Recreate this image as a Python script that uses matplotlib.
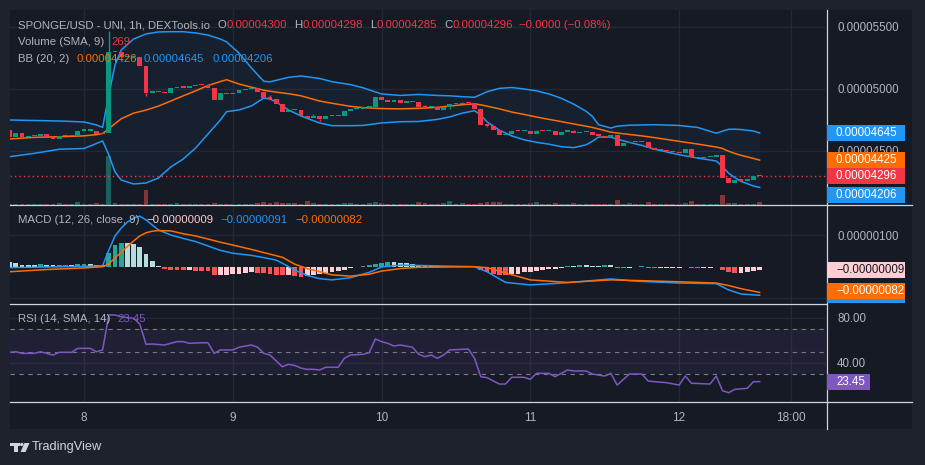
import numpy as np
import matplotlib.pyplot as plt
from matplotlib.patches import Rectangle, Polygon, Circle
from matplotlib.lines import Line2D
from matplotlib.transforms import IdentityTransform
from matplotlib.ticker import FuncFormatter

plt.rcParams['font.family'] = ['Liberation Sans', 'DejaVu Sans']

# prices are given in units of 1e-8 USD
UNIT = 1e-8

# hourly candles, hours counted from the 8th 00:00
hours = np.arange(-12, 110)
first_open = 4669
closes = [
    4615, 4643, 4610, 4620, 4621, 4635, 4615, 4594, 4623, 4619, 4624, 4664,
    4664, 4664, 4637, 4643, 5296, 5296, 5258, 5258, 5258, 5185, 4968, 4984,
    4976, 4966, 5008, 5016, 5012, 5024, 5032, 5030, 5006, 4911, 4968, 4958,
    4970, 4992, 5000, 5010, 4978, 4930, 4922, 4877, 4817, 4831, 4830, 4785,
    4769, 4785, 4758, 4785, 4780, 4780, 4823, 4839, 4839, 4852, 4852, 4935,
    4914, 4898, 4911, 4890, 4893, 4893, 4855, 4852, 4853, 4831, 4852, 4879,
    4879, 4887, 4885, 4841, 4712, 4704, 4672, 4631, 4637, 4661, 4659, 4659,
    4637, 4661, 4659, 4659, 4629, 4656, 4661, 4645, 4651, 4651, 4629, 4624,
    4613, 4629, 4543, 4562, 4573, 4570, 4570, 4527, 4510, 4510, 4500, 4490,
    4481, 4516, 4454, 4444, 4449, 4449, 4468, 4285, 4242, 4269, 4261, 4264,
    4300, 4296,
]
volumes = [
    110, 90, 100, 80, 90, 120, 90, 100, 210, 90, 80, 270,
    90, 100, 180, 120, 4400, 140, 110, 100, 90, 120, 1350, 100,
    90, 100, 120, 150, 100, 80, 130, 90, 120, 150, 120, 90,
    90, 80, 90, 100, 200, 250, 140, 230, 200, 150, 150, 100,
    350, 160, 110, 90, 80, 90, 150, 160, 90, 90, 180, 260,
    150, 100, 90, 90, 80, 90, 270, 180, 90, 100, 180, 350,
    100, 180, 90, 100, 180, 230, 230, 270, 90, 90, 80, 90,
    180, 270, 90, 90, 180, 90, 90, 180, 90, 80, 90, 90,
    90, 90, 450, 90, 180, 90, 80, 270, 100, 90, 90, 90,
    90, 180, 360, 100, 90, 90, 100, 900, 180, 180, 90, 90,
    100, 269,
]
# visible wicks
hi_hours = [4, 30, 37, 46, 55, 61, 73, 79]
hi_vals = [5468, 4952, 4798, 4863, 4873, 4895, 4669, 4669]
lo_hours = [10, 38, 59, 65]
lo_vals = [4945, 4742, 4836, 4696]

# Bollinger bands (20, 2)
bb_hours = [-12, -8, -4, 0, 2, 3, 4, 5, 6, 8,
            10, 12, 14, 16, 18, 20, 22, 23, 25, 27,
            29, 30, 31, 33, 35, 38, 40, 43, 45, 48,
            51, 54, 57, 59, 61, 63, 64, 65, 67, 69,
            71, 73, 75, 77, 79, 81, 82, 83, 85, 86,
            88, 90, 92, 96, 99, 102, 103, 104, 105, 106,
            108, 109]
bb_upper = [4750, 4746, 4742, 4734, 4710, 4690, 4952, 5194, 5315, 5403,
            5444, 5460, 5462, 5462, 5452, 5435, 5403, 5380, 5290, 5170,
            5062, 5058, 5070, 5094, 5105, 5085, 5059, 5035, 5010, 4960,
            4948, 4956, 4948, 4945, 4938, 4933, 4955, 4978, 5005, 5012,
            5000, 4985, 4960, 4925, 4878, 4820, 4780, 4712, 4685, 4700,
            4708, 4710, 4712, 4706, 4690, 4643, 4660, 4675, 4676, 4673,
            4661, 4645]
bb_mid = [4597, 4610, 4615, 4622, 4632, 4641, 4680, 4720, 4760, 4805,
          4830, 4862, 4903, 4945, 4985, 5028, 5060, 5075, 5040, 5015,
          4990, 4982, 4975, 4962, 4945, 4903, 4885, 4860, 4850, 4842,
          4840, 4844, 4852, 4862, 4873, 4880, 4872, 4862, 4840, 4814,
          4795, 4774, 4755, 4737, 4718, 4700, 4690, 4678, 4652, 4645,
          4633, 4622, 4608, 4578, 4556, 4532, 4520, 4498, 4480, 4465,
          4440, 4426]
bb_lower = [4454, 4481, 4514, 4520, 4560, 4581, 4468, 4331, 4266, 4234,
            4242, 4282, 4371, 4435, 4524, 4637, 4750, 4817, 4831, 4863,
            4927, 4919, 4895, 4831, 4782, 4726, 4704, 4704, 4706, 4726,
            4736, 4738, 4755, 4775, 4805, 4825, 4790, 4735, 4668, 4622,
            4590, 4570, 4555, 4535, 4527, 4550, 4578, 4612, 4612, 4595,
            4569, 4545, 4515, 4470, 4443, 4419, 4375, 4320, 4285, 4255,
            4218, 4206]

# MACD (12, 26, close, 9)
macd_hist = [
    14, 11, 7, 7, 5, 8, 5, 5, 6, 7, 5, 8,
    9, 8, 7, 6, 44, 70, 76, 76, 71, 62, 40, 19,
    2, -7, -10, -11, -12, -11, -13, -14, -15, -27, -26, -25,
    -24, -22, -20, -18, -20, -21, -23, -25, -27, -25, -30, -32,
    -30, -27, -23, -20, -17, -13, -9, -5, -2, 2, 4, 8,
    12, 16, 14, 13, 13, 10, 7, 5, 3, 2, 1, 1,
    1, 2, 2, 0, -12, -17, -22, -25, -28, -24, -24, -17,
    -17, -15, -12, -8, -6, -4, 3, 3, 4, 4, 3, 3,
    4, 4, -3, -5, -3, -2, 1, -4, -5, -5, -5, -4,
    -4, -1, -4, -5, -4, -3, -2, -12, -17, -20, -20, -17,
    -14, -9,
]
macd_hours = [-12, -6, 0, 3, 4, 5, 6, 7, 8, 9, 10, 11, 12, 14, 16,
              18, 20, 22, 24, 27, 29, 31, 32, 34, 36, 38, 40, 43, 46, 48,
              51, 54, 58, 63, 65, 68, 72, 78, 85, 89, 96, 102, 104, 106, 109]
macd_line = [-3, -1, 1, 3, 53, 98, 123, 142, 155, 161, 149, 133, 117, 101, 90,
             80, 66, 52, 43, 36, 29, 21, 11, -11, -28, -38, -42, -35, -18, -1,
             5, 4, 2, 0, -16, -50, -58, -51, -39, -46, -52, -54, -74, -87, -91]
signal_line = [-16, -9, -4, 0, 9, 28, 46, 64, 82, 98, 108, 113, 115, 114, 105,
               98, 88, 78, 69, 55, 45, 35, 30, 8, -6, -16, -26, -30, -24, -14,
               -6, -2, -1, 0, -3, -20, -42, -50, -42, -44, -48, -52, -60, -70, -82]

# RSI (14)
rsi_hours = [-12, -11, -10, -8, -7, -5, -4, -2, -1, 1,
             2, 3, 4, 5, 6, 8, 9, 10, 11, 13,
             15, 16, 17, 19, 20, 21, 22, 24, 25, 27,
             28, 29, 30, 32, 33, 34, 35, 36, 37, 38,
             39, 41, 42, 43, 45, 46, 47, 48, 49, 50,
             51, 53, 54, 55, 56, 57, 58, 59, 62, 63,
             64, 65, 67, 68, 69, 71, 72, 73, 75, 76,
             78, 79, 81, 82, 84, 85, 86, 88, 90, 91,
             92, 94, 96, 97, 98, 101, 102, 103, 104, 105,
             107, 108, 109]
rsi_vals = [49.5, 50, 48.6, 48.6, 50, 47, 49.5, 49.5, 53, 53,
            50, 51.6, 82.7, 82.7, 81, 79.7, 74.7, 56.6, 56.9, 56,
            59, 59, 57.5, 58, 58, 48.6, 51.6, 51.6, 54, 56,
            54, 48.6, 47.1, 36.7, 38.8, 37.8, 35.5, 34.4, 34.4, 33.8,
            36.2, 36.2, 44.2, 47.1, 47.7, 49.2, 61.3, 59, 57.5, 55.1,
            56, 54, 47.7, 45.6, 47.1, 44.2, 47.1, 51.6, 52.4, 44.2,
            27.8, 27, 21.3, 21.3, 27.3, 27.3, 25.5, 30.8, 30.8, 27.8,
            33.8, 32.9, 32.9, 30.2, 28.4, 30.8, 20.4, 30.2, 30.2, 24,
            23.4, 22.5, 20.4, 28.4, 22, 21.3, 28.4, 15.4, 13.6, 16.6,
            17.5, 23.4, 23.45]

day_ticks = [0, 24, 48, 72, 96, 114]
day_labels = ['8', '9', '10', '11', '12', '18:00']

# colours
OUTER = '#1e222d'
BG = '#161a25'
GRID = '#242834'
TXT = '#b2b5be'
SEP = '#d1d4dc'
UP = '#089981'
DN = '#f23645'
BLUE = '#2196f3'
ORANGE = '#ff6d00'
PURPLE = '#7e57c2'

W, H = 925, 465
fig = plt.figure(figsize=(W / 100, H / 100), dpi=100, facecolor=OUTER)
ident = IdentityTransform()


def box(x0, y0, x1, y1, color, z=-1):
    # pixel coords of the picture, y going down
    r = Rectangle((x0, H - y1), x1 - x0, y1 - y0, transform=ident,
                  facecolor=color, edgecolor='none', zorder=z)
    fig.add_artist(r)


def hline(y, x0, x1, z=4):
    fig.add_artist(Line2D([x0, x1], [H - y, H - y], transform=ident,
                          color=SEP, lw=0.9, zorder=z))


box(10, 10, 912, 429, BG)


def pane(y0, y1):
    ax = fig.add_axes([10 / W, 1 - y1 / H, 816 / W, (y1 - y0) / H])
    ax.patch.set_visible(False)
    for s in ax.spines.values():
        s.set_visible(False)
    ax.set_xlim(-11.94, 119.7)
    ax.set_xticks(day_ticks)
    ax.grid(True, color=GRID, lw=1)
    ax.set_axisbelow(True)
    return ax


def right_ticks(ax):
    ax.yaxis.tick_right()
    ax.tick_params(axis='y', length=0, labelsize=8.3, labelcolor=TXT, pad=8)
    ax.tick_params(axis='x', length=0, labelbottom=False)


ax_main = pane(10, 205)
ax_macd = pane(205, 303)
ax_rsi = pane(303, 402)

# ---- main pane: candles, bands, volume ----
c = np.array(closes) * UNIT
o = np.concatenate([[first_open * UNIT], c[:-1]])
up = c >= o
col = np.where(up, UP, DN)
body_h = np.maximum(np.abs(c - o), 10 * UNIT)
ax_main.bar(hours, body_h, bottom=np.minimum(o, c), width=0.78, color=col,
            linewidth=0, zorder=4)
top = np.maximum(o, c)
bot = np.minimum(o, c)
for h, v in zip(hi_hours, hi_vals):
    i = h + 12
    ax_main.vlines(h, top[i], v * UNIT, color=col[i], lw=1, zorder=3)
for h, v in zip(lo_hours, lo_vals):
    i = h + 12
    ax_main.vlines(h, v * UNIT, bot[i], color=col[i], lw=1, zorder=3)

bu = np.array(bb_upper) * UNIT
bm = np.array(bb_mid) * UNIT
bl = np.array(bb_lower) * UNIT
ax_main.fill_between(bb_hours, bl, bu, color=BLUE, alpha=0.05, lw=0, zorder=1)
ax_main.plot(bb_hours, bu, color=BLUE, lw=1.1, zorder=2)
ax_main.plot(bb_hours, bl, color=BLUE, lw=1.1, zorder=2)
ax_main.plot(bb_hours, bm, color=ORANGE, lw=1.1, zorder=2)
ax_main.axhline(closes[-1] * UNIT, color=DN, lw=1, ls=(0, (1, 2.2)), zorder=2)
ax_main.set_ylim(4064.5 * UNIT, 5637 * UNIT)
ax_main.set_yticks([4.5e-5, 5e-5, 5.5e-5])
ax_main.yaxis.set_major_formatter(FuncFormatter(lambda v, p: f'{v:.8f}'))

ax_vol = ax_main.twinx()
ax_vol.axis('off')
vol_col = np.where(up, '#26a69a', '#ef5350')
ax_vol.bar(hours, volumes, width=0.78, color=vol_col, alpha=0.5, linewidth=0)
ax_vol.set_ylim(0, 17550)
ax_vol.set_zorder(1)
ax_main.set_zorder(2)
right_ticks(ax_main)

# ---- MACD pane ----
hist = np.array(macd_hist)
prev = np.concatenate([[hist[0] + 1], hist[:-1]])
hcol = np.where(hist >= 0,
                np.where(hist > prev, '#26a69a', '#b2dfdb'),
                np.where(hist < prev, '#ff5252', '#ffcdd2'))
ax_macd.bar(hours, hist * UNIT, width=0.78, color=hcol, linewidth=0, zorder=2)
ax_macd.plot(macd_hours, np.array(macd_line) * UNIT, color=BLUE, lw=1.1, zorder=3)
ax_macd.plot(macd_hours, np.array(signal_line) * UNIT, color=ORANGE, lw=1.1, zorder=3)
ax_macd.set_ylim(-115.6 * UNIT, 196.5 * UNIT)
ax_macd.set_yticks([-1e-6, 1e-6])
ax_macd.yaxis.set_major_formatter(
    FuncFormatter(lambda v, p: '' if v < 0 else f'{v:.8f}'))
right_ticks(ax_macd)

# ---- RSI pane ----
ax_rsi.axhspan(30, 70, color=PURPLE, alpha=0.1, lw=0, zorder=1)
for lvl in (70, 50, 30):
    ax_rsi.axhline(lvl, color='#787b86', lw=0.8, ls=(0, (4, 4)), zorder=2)
ax_rsi.plot(rsi_hours, rsi_vals, color=PURPLE, lw=1.1, zorder=3)
ax_rsi.set_ylim(5.33, 93.33)
ax_rsi.set_yticks([40, 80])
ax_rsi.yaxis.set_major_formatter(FuncFormatter(lambda v, p: f'{v:.2f}'))
right_ticks(ax_rsi)
ax_rsi.set_xticklabels(day_labels)
ax_rsi.tick_params(axis='x', labelbottom=True, labelsize=8.5,
                   labelcolor=TXT, pad=7)

# ---- separators ----
hline(205, 10, 912)
hline(303.5, 10, 826)
hline(402, 10, 912)
fig.add_artist(Line2D([826.5, 826.5], [H - 429, H - 10], transform=ident,
                      color=SEP, lw=0.9, zorder=4))


# ---- price tags on the right scale ----
def tag(ax, value, text, bg, fg='white', width=78, shift=0, z=5):
    y = ax.transData.transform((0, value))[1] - shift
    fig.add_artist(Rectangle((827, y - 8), width, 16, transform=ident,
                             facecolor=bg, edgecolor='none', zorder=z))
    if text:
        fig.text(836, y, text, transform=ident, color=fg, fontsize=8.3,
                 va='center', ha='left', zorder=z + 0.1)


tag(ax_main, 4645 * UNIT, '0.00004645', BLUE)
tag(ax_main, 4425 * UNIT, '0.00004425', ORANGE)
tag(ax_main, 4296 * UNIT, '0.00004296', DN)
tag(ax_main, 4206 * UNIT, '0.00004206', BLUE, shift=7.5)
# MACD line tag sits under the signal tag, only its lower edge shows
tag(ax_macd, -91 * UNIT, '', BLUE)
tag(ax_macd, -82 * UNIT, '\u22120.00000082', ORANGE, shift=-1, z=5.5)
tag(ax_macd, -9 * UNIT, '\u22120.00000009', '#ffcdd2', fg='#131722')
tag(ax_rsi, 23.45, '23.45', PURPLE, width=43)

# ---- legends ----
renderer = fig.canvas.get_renderer()


def legend(y, pieces, x=18):
    for txt, color, gap in pieces:
        t = fig.text(x, H - y, txt, transform=ident, color=color, fontsize=8.2,
                     va='center', ha='left', zorder=6)
        x = t.get_window_extent(renderer=renderer).x1 + gap


legend(25, [('SPONGE/USD - UNI, 1h, DEXTools.io', TXT, 7),
            ('O', TXT, 0.5), ('0.00004300', DN, 7),
            ('H', TXT, 0.5), ('0.00004298', DN, 7),
            ('L', TXT, 0.5), ('0.00004285', DN, 7),
            ('C', TXT, 0.5), ('0.00004296', DN, 6),
            ('\u22120.0000 (\u22120.08%)', DN, 0)])
legend(42, [('Volume (SMA, 9)', TXT, 7), ('269', DN, 0)])
legend(59, [('BB (20, 2)', TXT, 7), ('0.00004426', ORANGE, 7),
            ('0.00004645', BLUE, 8), ('0.00004206', BLUE, 0)])
legend(220, [('MACD (12, 26, close, 9)', TXT, 7),
             ('\u22120.00000009', '#ffcdd2', 7),
             ('\u22120.00000091', BLUE, 8),
             ('\u22120.00000082', ORANGE, 0)])
legend(319, [('RSI (14, SMA, 14)', TXT, 7), ('23.45', PURPLE, 0)])

# ---- TradingView logo ----
LOGO = '#d1d4dc'
box(10, 443, 20, 446, LOGO, z=6)
box(14, 443, 18, 452, LOGO, z=6)
fig.add_artist(Circle((21.8, H - 444.5), 1.7, transform=ident,
                      facecolor=LOGO, edgecolor='none', zorder=6))
fig.add_artist(Polygon([(24.5, H - 443), (29.5, H - 443), (25.5, H - 452),
                        (20.5, H - 452)], transform=ident, facecolor=LOGO,
                       edgecolor='none', zorder=6))
fig.text(32, H - 447, 'TradingView', transform=ident, color=LOGO,
         fontsize=9.2, va='center', ha='left')

fig.savefig('out.png', dpi=100, facecolor=OUTER)
